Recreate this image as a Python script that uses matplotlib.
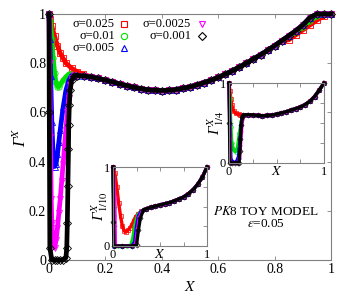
import matplotlib.pyplot as plt
import numpy as np

plt.rcParams['font.family'] = ['Liberation Serif', 'DejaVu Serif']
plt.rcParams['mathtext.fontset'] = 'stix'

# --- datos: curva comun (cola) y el tramo inicial de cada sigma ---
sigmas = ['σ=0.025', 'σ=0.01', 'σ=0.005', 'σ=0.0025', 'σ=0.001']
colores = ['#ff0000', '#00e000', '#0000ff', '#ff00ff', '#000000']
marcas = ['s', 'o', '^', 'v', 'D']

tail_x = [0.10, 0.125, 0.15, 0.175, 0.2, 0.225, 0.25, 0.275, 0.3, 0.325, 0.35, 0.375,
          0.4, 0.425, 0.45, 0.475, 0.5, 0.525, 0.55, 0.575, 0.6, 0.625, 0.65, 0.675,
          0.7, 0.725, 0.75, 0.775, 0.8, 0.825, 0.85, 0.875, 0.9, 0.925, 0.95, 0.975, 1.0]
tail_y = [0.750, 0.748, 0.744, 0.738, 0.731, 0.724, 0.716, 0.709, 0.702, 0.697, 0.692, 0.690,
          0.689, 0.690, 0.693, 0.698, 0.704, 0.712, 0.721, 0.731, 0.742, 0.755, 0.769, 0.784,
          0.800, 0.817, 0.834, 0.852, 0.871, 0.891, 0.911, 0.932, 0.955, 0.985, 1.0, 1.0, 1.0]

red_x = [0, 0.005, 0.01, 0.02, 0.03, 0.04, 0.05, 0.06, 0.08, 0.10, 0.12, 0.15]
red_y = [1, 0.98, 0.95, 0.91, 0.87, 0.84, 0.82, 0.80, 0.78, 0.765, 0.755, 0.745]
green_x = [0, 0.005, 0.01, 0.015, 0.02, 0.025, 0.03, 0.035, 0.04, 0.05, 0.06, 0.07, 0.08]
green_y = [1, 0.97, 0.90, 0.82, 0.76, 0.72, 0.705, 0.705, 0.715, 0.73, 0.745, 0.755, 0.755]
blue_x = [0, 0.003, 0.006, 0.01, 0.015, 0.02, 0.025, 0.03, 0.035, 0.04, 0.05, 0.06, 0.07, 0.08]
blue_y = [1, 0.9, 0.75, 0.56, 0.42, 0.38, 0.39, 0.43, 0.48, 0.53, 0.62, 0.69, 0.73, 0.75]
mag_x = [0, 0.002, 0.005, 0.008, 0.01, 0.015, 0.02, 0.025, 0.03, 0.035, 0.04, 0.045, 0.05,
         0.055, 0.06, 0.065, 0.07, 0.075, 0.08, 0.09]
mag_y = [1, 0.8, 0.5, 0.25, 0.15, 0.06, 0.05, 0.08, 0.13, 0.19, 0.25, 0.32, 0.39,
         0.46, 0.53, 0.6, 0.66, 0.71, 0.74, 0.752]
blk_x = [0, 0.001, 0.003, 0.01, 0.02, 0.03, 0.04, 0.05, 0.06, 0.063, 0.065, 0.067, 0.069,
         0.07, 0.072, 0.075, 0.08, 0.09]
blk_y = [1, 0.6, 0.05, 0, 0, 0, 0, 0, 0.01, 0.05, 0.15, 0.3, 0.45,
         0.55, 0.63, 0.69, 0.73, 0.75]

# final algo mas bajo para sigma=0.025 y 0.01
red_end_x = [0.85, 0.875, 0.9, 0.925, 0.95, 0.975, 1.0]
red_end_y = [0.895, 0.915, 0.935, 0.955, 0.975, 0.992, 1.0]
green_end_x = [0.875, 0.9, 0.925, 0.95, 0.975, 1.0]
green_end_y = [0.925, 0.948, 0.972, 0.99, 1.0, 1.0]

# inset Gamma_{1/4}
i4_tail_x = [0.15, 0.2, 0.25, 0.3, 0.35, 0.4, 0.45, 0.5, 0.55, 0.6, 0.65, 0.7, 0.75, 0.8, 0.85, 0.9, 0.95, 1.0]
i4_tail_y = [0.60, 0.605, 0.60, 0.595, 0.59, 0.595, 0.60, 0.61, 0.625, 0.64, 0.66, 0.68, 0.70, 0.73, 0.77, 0.83, 0.91, 1.0]
i4_heads = [
    ([0, 0.01, 0.02, 0.03, 0.05, 0.07, 0.1, 0.12], [1, 0.9, 0.8, 0.72, 0.65, 0.62, 0.61, 0.605]),
    ([0, 0.01, 0.02, 0.03, 0.05, 0.07, 0.09, 0.11, 0.13], [1, 0.8, 0.45, 0.25, 0.16, 0.14, 0.2, 0.38, 0.52]),
    ([0, 0.01, 0.02, 0.04, 0.06, 0.08, 0.1, 0.11, 0.12, 0.13, 0.14], [1, 0.5, 0.05, 0.01, 0.01, 0.02, 0.08, 0.2, 0.35, 0.5, 0.58]),
    ([0, 0.01, 0.015, 0.03, 0.06, 0.09, 0.11, 0.12, 0.13, 0.14], [1, 0.3, 0.0, 0, 0, 0, 0.05, 0.2, 0.38, 0.52]),
    ([0, 0.005, 0.01, 0.03, 0.06, 0.09, 0.105, 0.115, 0.12, 0.13, 0.14], [1, 0.5, 0, 0, 0, 0, 0.0, 0.15, 0.3, 0.48, 0.57]),
]

# inset Gamma_{1/10}
i10_tail_x = [0.35, 0.4, 0.45, 0.5, 0.55, 0.6, 0.65, 0.7, 0.75, 0.8, 0.85, 0.9, 0.95, 1.0]
i10_tail_y = [0.47, 0.49, 0.505, 0.52, 0.535, 0.55, 0.57, 0.595, 0.62, 0.66, 0.71, 0.78, 0.87, 1.0]
i10_heads = [
    ([0, 0.02, 0.04, 0.06, 0.08, 0.1, 0.12, 0.14, 0.16, 0.18, 0.2, 0.22, 0.24, 0.27, 0.3],
     [1, 0.92, 0.75, 0.55, 0.38, 0.25, 0.19, 0.18, 0.2, 0.23, 0.27, 0.32, 0.37, 0.41, 0.44]),
    ([0, 0.01, 0.015, 0.05, 0.1, 0.15, 0.19, 0.21, 0.23, 0.25, 0.27, 0.3],
     [1, 0.5, 0, 0, 0, 0, 0.01, 0.1, 0.25, 0.35, 0.4, 0.44]),
    ([0, 0.01, 0.015, 0.1, 0.2, 0.23, 0.25, 0.27, 0.3], [1, 0.4, 0, 0, 0, 0.05, 0.25, 0.38, 0.44]),
    ([0, 0.02, 0.025, 0.1, 0.2, 0.24, 0.26, 0.28, 0.31], [1, 0.6, 0, 0, 0, 0.02, 0.2, 0.36, 0.44]),
    ([0, 0.005, 0.01, 0.1, 0.2, 0.25, 0.27, 0.29, 0.32], [1, 0.3, 0, 0, 0, 0.01, 0.2, 0.35, 0.45]),
]


def unir(hx, hy, tx, ty, ex=None, ey=None):
    # tramo inicial + cola comun (+ final propio si lo hay)
    x = list(hx) + [a for a in tx if a > hx[-1]]
    y = list(hy) + [b for a, b in zip(tx, ty) if a > hx[-1]]
    if ex is not None:
        y = [b for a, b in zip(x, y) if a < ex[0]] + list(ey)
        x = [a for a in x if a < ex[0]] + list(ex)
    return np.array(x), np.array(y)


GRIS = '#808080'


def estilo(ax, paso, fs):
    for s in ax.spines.values():
        s.set_color(GRIS)
        s.set_linewidth(0.8)
    ax.set_xlim(0, 1)
    ax.set_ylim(0, 1)
    t = np.arange(0, 1.0001, paso)
    ax.set_xticks(t)
    ax.set_yticks(t)
    ax.tick_params(direction='in', top=True, right=True, length=3, width=0.6,
                   color=GRIS, labelsize=fs, pad=2)


fig = plt.figure(figsize=(3.53, 2.94), dpi=100)
ax = fig.add_axes([49 / 353, 1 - 260 / 294, 282 / 353, 246 / 294])

heads = [(red_x, red_y), (green_x, green_y), (blue_x, blue_y), (mag_x, mag_y), (blk_x, blk_y)]
ends = [(red_end_x, red_end_y), (green_end_x, green_end_y), (None, None), (None, None), (None, None)]
for (hx, hy), (ex, ey), c, m in zip(heads, ends, colores, marcas):
    x, y = unir(hx, hy, tail_x, tail_y, ex, ey)
    ax.plot(x, y, color=c, lw=3.4, clip_on=False, zorder=3)
    ax.plot(x, y, ls='none', marker=m, ms=3.8, mfc='none', mec=c, mew=0.6,
            clip_on=False, zorder=3)

estilo(ax, 0.2, 10)
ax.set_xticklabels(['0', '0.2', '0.4', '0.6', '0.8', '1'])
ax.set_yticklabels(['0', '0.2', '0.4', '0.6', '0.8', '1'])
ax.set_xlabel('$X$', fontsize=11, labelpad=3)
ax.set_ylabel('Γ$^X$', fontsize=12, fontstyle='italic', labelpad=-1)

# leyenda estilo gnuplot: texto alineado a la derecha y marca despues
ley_tx = [0.234, 0.234, 0.234, 0.504, 0.504]
ley_mx = [0.266, 0.266, 0.266, 0.543, 0.543]
ley_y = [0.959, 0.911, 0.863, 0.959, 0.911]
for s, c, m, tx, mx, yy in zip(sigmas, colores, marcas, ley_tx, ley_mx, ley_y):
    ax.text(tx, yy, s, transform=ax.transAxes, ha='right', va='center', fontsize=9)
    ax.plot([mx], [yy], transform=ax.transAxes, ls='none', marker=m, ms=4.5,
            mfc='none', mec=c, mew=0.8, clip_on=False)

ax.text(0.77, 0.198, r'$\mathit{PK}$8 TOY MODEL', transform=ax.transAxes,
        ha='center', va='center', fontsize=9.5)
ax.text(0.77, 0.145, r'$\varepsilon$=0.05', transform=ax.transAxes,
        ha='center', va='center', fontsize=9.5)


def inset(pos, hs, tx, ty, ylab):
    a = fig.add_axes(pos)
    a.set_facecolor('white')
    for (hx, hy), c, m in zip(hs, colores, marcas):
        x, y = unir(hx, hy, tx, ty)
        a.plot(x, y, color=c, lw=2.4, clip_on=False)
        a.plot(x, y, ls='none', marker=m, ms=2.6, mfc='none', mec=c, mew=0.5, clip_on=False)
    estilo(a, 0.25, 9)
    a.set_xticklabels(['0', '', '', '', '1'])
    a.set_yticklabels(['0', '', '', '', '1'])
    a.text(0.5, -0.03, '$X$', transform=a.transAxes, ha='center', va='top', fontsize=10)
    a.set_ylabel(ylab, fontsize=11, fontstyle='italic', labelpad=-4)
    return a


inset([229 / 353, 1 - 163 / 294, 95 / 353, 80 / 294], i4_heads, i4_tail_x, i4_tail_y,
      'Γ$^X_{1/4}$')
inset([113 / 353, 1 - 246 / 294, 94 / 353, 79 / 294], i10_heads, i10_tail_x, i10_tail_y,
      'Γ$^X_{1/10}$')

fig.savefig('out.png', dpi=100)
